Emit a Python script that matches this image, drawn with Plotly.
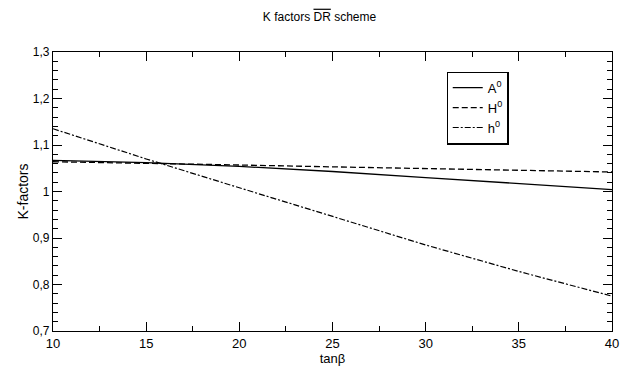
import plotly.graph_objects as go

tan_beta = [10, 15, 20, 25, 30, 35, 40]
k_A0 = [1.067, 1.062, 1.054, 1.043, 1.030, 1.017, 1.004]
k_H0 = [1.064, 1.061, 1.057, 1.053, 1.049, 1.045, 1.042]
k_h0 = [1.135, 1.070, 1.008, 0.946, 0.885, 0.828, 0.775]

y_tickvals = [0.7, 0.8, 0.9, 1.0, 1.1, 1.2, 1.3]
y_ticktext = ["0,7", "0,8", "0,9", "1", "1,1", "1,2", "1,3"]
x_tickvals = [10, 15, 20, 25, 30, 35, 40]
x_ticktext = ["10", "15", "20", "25", "30", "35", "40"]

font = "Liberation Sans, Arial, sans-serif"

fig = go.Figure()
fig.add_trace(go.Scatter(x=tan_beta, y=k_A0, mode="lines", name="A<sup>0</sup>",
                         line=dict(color="black", width=1.3, dash="solid")))
fig.add_trace(go.Scatter(x=tan_beta, y=k_H0, mode="lines", name="H<sup>0</sup>",
                         line=dict(color="black", width=1.3, dash="6px,3px")))
fig.add_trace(go.Scatter(x=tan_beta, y=k_h0, mode="lines", name="h<sup>0</sup>",
                         line=dict(color="black", width=1.2, dash="6px,2px,2px,2px")))

axis_common = dict(showgrid=False, zeroline=False, showline=True, linecolor="black",
                   linewidth=1.3, mirror="ticks", ticks="inside", tickcolor="black",
                   tickwidth=1.2)

fig.update_xaxes(range=[10, 40], tickvals=x_tickvals, ticktext=x_ticktext, ticklen=9,
                 tickfont=dict(family=font, size=13, color="black"),
                 minor=dict(ticks="inside", dtick=2.5, tick0=10, ticklen=5, tickcolor="black"),
                 title=dict(text="tanβ", font=dict(family=font, size=13, color="black"), standoff=0),
                 **axis_common)
fig.update_yaxes(range=[0.7, 1.3], tickvals=y_tickvals, ticktext=y_ticktext, ticklen=9,
                 tickfont=dict(family=font, size=12, color="black"),
                 minor=dict(ticks="inside", dtick=0.02, tick0=0.7, ticklen=5, tickcolor="black"),
                 title=dict(text="K-factors", font=dict(family=font, size=14, color="black"), standoff=0),
                 **axis_common)

# page body adds an 8px offset, so the figure is sized/placed to compensate
fig.update_layout(
    width=623, height=364,
    margin=dict(l=45, r=17, t=44, b=41),
    paper_bgcolor="white", plot_bgcolor="white",
    title=dict(text='K factors <span style="text-decoration:overline">DR</span> scheme',
               x=0.5, xanchor="center", y=1 - 8.5 / 364, yanchor="middle",
               font=dict(family=font, size=12, color="black")),
    legend=dict(x=0.704, y=0.93, xanchor="left", yanchor="top",
                bgcolor="white", bordercolor="black", borderwidth=1.2,
                font=dict(family=font, size=13, color="black"),
                itemwidth=30, tracegroupgap=2),
    showlegend=True,
)

fig.write_html("out.html")
